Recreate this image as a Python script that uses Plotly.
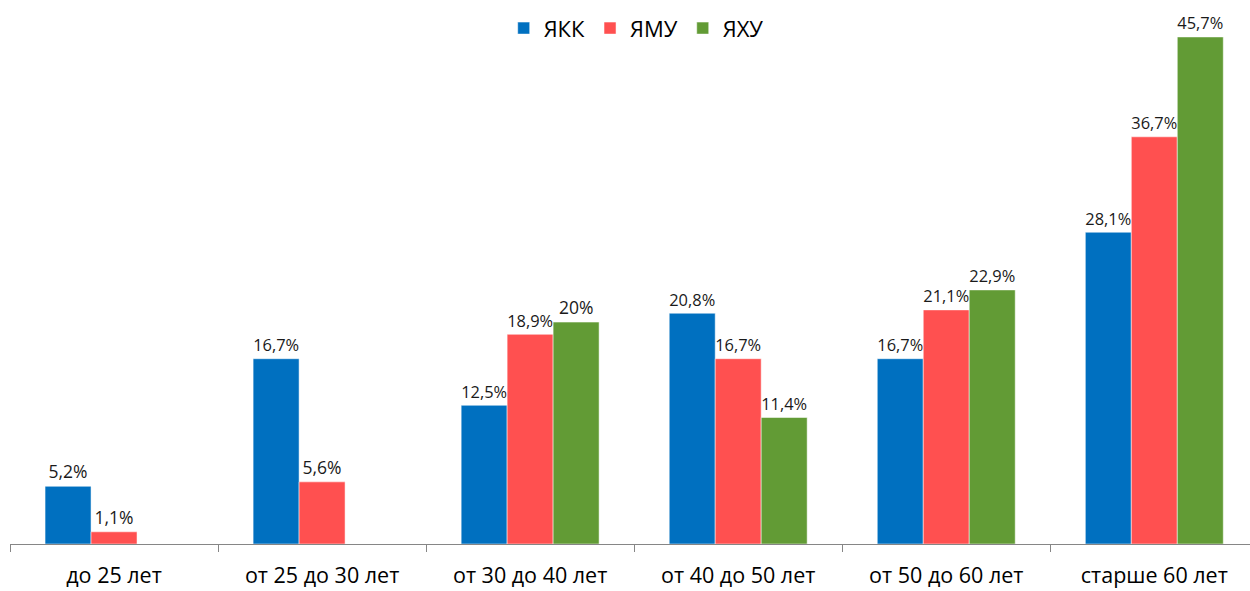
import plotly.graph_objects as go

categories = ["до 25 лет", "от 25 до 30 лет", "от 30 до 40 лет",
              "от 40 до 50 лет", "от 50 до 60 лет", "старше 60 лет"]
series_names = ["ЯКК", "ЯМУ", "ЯХУ"]
yakk = [5.2, 16.7, 12.5, 20.8, 16.7, 28.1]
yamu = [1.1, 5.6, 18.9, 16.7, 21.1, 36.7]
yahu = [None, None, 20.0, 11.4, 22.9, 45.7]
colors = ["#0070C0", "#FF5050", "#629B35"]

FONT = "Open Sans, Noto Sans, DejaVu Sans, sans-serif"


def fmt(v):
    if v is None:
        return ""
    s = f"{v:.1f}".rstrip("0").rstrip(".")
    return s.replace(".", ",") + "%"


fig = go.Figure()
for name, vals, col in zip(series_names, [yakk, yamu, yahu], colors):
    fig.add_trace(go.Bar(
        name=name, x=categories, y=vals,
        marker=dict(color=col, line=dict(color="white", width=0.5)),
        text=[fmt(v) for v in vals], textposition="outside",
        textfont=dict(family=FONT, size=17.5, color="#1a1a1a"),
        cliponaxis=False,
    ))

fig.update_layout(
    width=1250, height=591,
    margin=dict(l=10, r=0, t=0, b=47, autoexpand=False),
    barmode="group", bargap=0.337, bargroupgap=0,
    plot_bgcolor="white", paper_bgcolor="white",
    font=dict(family=FONT, color="#000"),
    legend=dict(orientation="h", x=0.505, xanchor="center", y=0.948, yanchor="middle",
                font=dict(family=FONT, size=22, color="#000"),
                itemwidth=30, traceorder="normal"),
    xaxis=dict(range=[-0.5, 5.46], showline=True, linecolor="#868686", linewidth=1,
               ticks="outside", tickson="boundaries", ticklen=7, tickcolor="#868686",
               tickfont=dict(family=FONT, size=21.5, color="#000"),
               ticklabelstandoff=12, showgrid=False),
    yaxis=dict(range=[0, 49.03], visible=False, showgrid=False),
)

fig.write_html("out.html")
